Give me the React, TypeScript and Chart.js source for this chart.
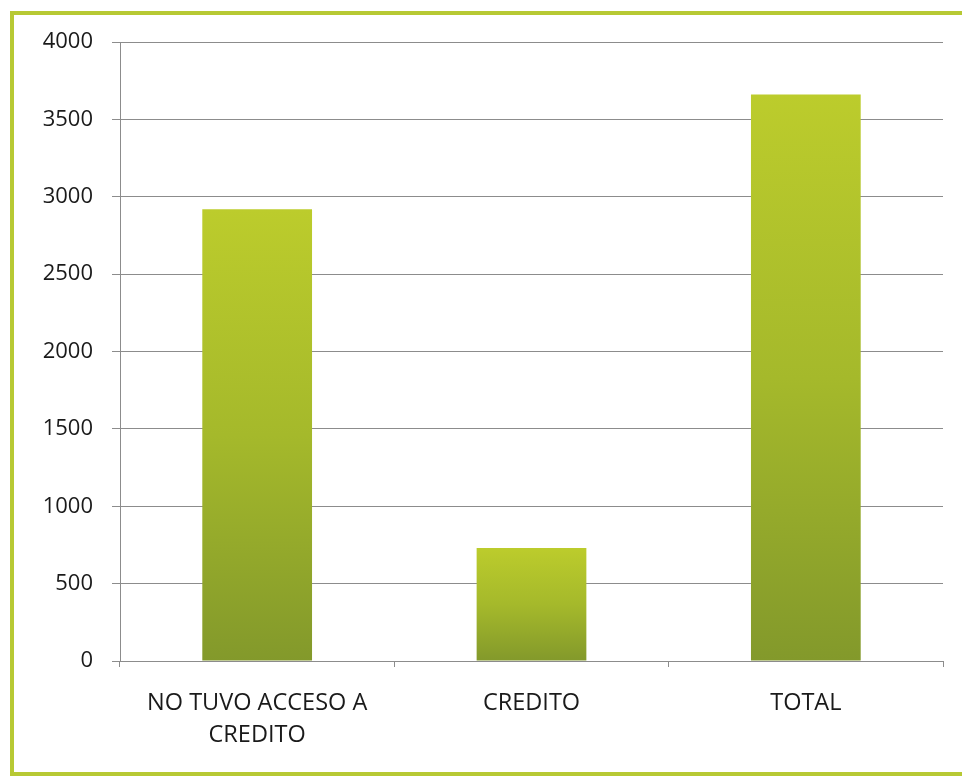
import React, { useEffect, useRef } from "react";
import { Chart, registerables } from "chart.js";

Chart.register(...registerables);

const categories: (string | string[])[] = [["NO TUVO ACCESO A", "CREDITO"], "CREDITO", "TOTAL"];
const values: number[] = [2920, 730, 3660];
const yTicks: number[] = [0, 500, 1000, 1500, 2000, 2500, 3000, 3500, 4000];

const FONT = "'Open Sans', 'DejaVu Sans', sans-serif";

export default function App() {
  const ref = useRef<HTMLCanvasElement | null>(null);

  useEffect(() => {
    if (!ref.current) return;
    const chart = new Chart(ref.current, {
      type: "bar",
      data: {
        labels: categories,
        datasets: [
          {
            data: values,
            backgroundColor: (ctx: any) => {
              const c = ctx.chart;
              const ys = c.scales && c.scales.y;
              if (!ys || ctx.type !== "data" || !c.chartArea) return "#a4b82a";
              const top = ys.getPixelForValue(ctx.raw);
              const bottom = ys.getPixelForValue(0);
              if (!isFinite(top) || !isFinite(bottom) || top === bottom) return "#a4b82a";
              const g = c.ctx.createLinearGradient(0, top, 0, bottom);
              g.addColorStop(0, "#bccc2c");
              g.addColorStop(0.5, "#a5b92b");
              g.addColorStop(1, "#83992b");
              return g;
            },
            borderWidth: 0,
            barPercentage: 0.4,
            categoryPercentage: 1,
          },
        ],
      },
      options: {
        animation: false,
        responsive: false,
        maintainAspectRatio: false,
        layout: { padding: { top: 42, right: 19, left: 0, bottom: 0 } },
        plugins: { legend: { display: false }, tooltip: { enabled: false }, title: { display: false } },
        scales: {
          x: {
            grid: {
              display: true,
              drawOnChartArea: false,
              drawTicks: true,
              tickLength: 6,
              color: "#8c8c8c",
              offset: true,
            },
            border: { display: true, color: "#8c8c8c", width: 1 },
            ticks: {
              color: "#1a1a1a",
              font: { family: FONT, size: 23.5, lineHeight: 1.33 },
              padding: 21,
              maxRotation: 0,
              autoSkip: false,
            },
            afterFit: (scale: any) => {
              scale.height = 777 - 661;
            },
          },
          y: {
            min: 0,
            max: 4000,
            afterBuildTicks: (scale: any) => {
              scale.ticks = yTicks.map((v) => ({ value: v }));
            },
            grid: {
              display: true,
              drawOnChartArea: true,
              drawTicks: true,
              tickLength: 8,
              color: "#8c8c8c",
              lineWidth: 1,
            },
            border: { display: true, color: "#8c8c8c", width: 1 },
            ticks: {
              color: "#1a1a1a",
              font: { family: FONT, size: 22 },
              padding: 19,
              callback: (v: any) => String(v),
            },
            afterFit: (scale: any) => {
              scale.width = 120;
            },
          },
        },
      },
    });
    return () => chart.destroy();
  }, []);

  return (
    <div
      style={{
        position: "absolute",
        left: 0,
        top: 0,
        width: 962,
        height: 777,
        overflow: "hidden",
        background: "#ffffff",
      }}
    >
      <div
        style={{
          position: "absolute",
          left: 10,
          top: 11,
          width: 980,
          height: 757,
          border: "4px solid #b7c934",
        }}
      />
      <canvas
        ref={ref}
        width={962}
        height={777}
        style={{ position: "absolute", left: 0, top: 0, width: 962, height: 777 }}
      />
    </div>
  );
}
